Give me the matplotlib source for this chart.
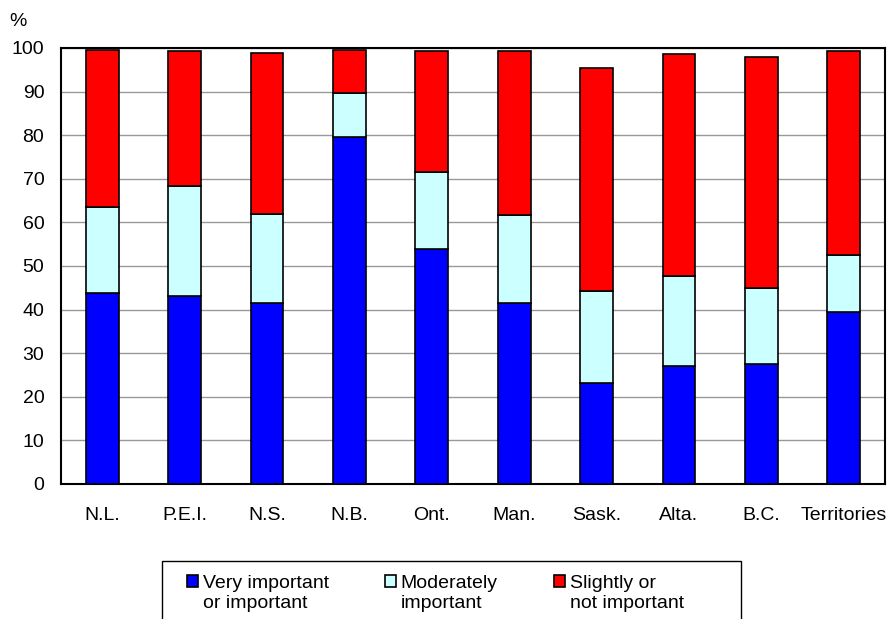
'''Stacked bar chart of importance ratings by province/territory.'''

import numpy as np
import matplotlib.pyplot as plt
from matplotlib.patches import Rectangle
from matplotlib.container import BarContainer
from matplotlib.legend_handler import HandlerPatch, update_from_first_child

plt.rcParams['font.family'] = ['Liberation Sans', 'DejaVu Sans']

# Data (%)
regions = ['N.L.', 'P.E.I.', 'N.S.', 'N.B.', 'Ont.', 'Man.', 'Sask.', 'Alta.', 'B.C.', 'Territories']
very_important = [43.7, 43.2, 41.5, 79.6, 53.9, 41.5, 23.2, 27.0, 27.5, 39.5]
moderately = [19.8, 25.2, 20.5, 10.0, 17.7, 20.3, 21.0, 20.6, 17.5, 13.0]
slightly = [36.0, 30.9, 36.8, 9.9, 27.6, 37.4, 51.3, 51.1, 53.0, 46.7]

series_labels = ['Very important\nor important', 'Moderately\nimportant', 'Slightly or\nnot important']
series_colors = ['#0000FF', '#CCFFFF', '#FF0000']
y_ticks = list(range(0, 101, 10))


def top_aligned_patch(legend, orig_handle, xdescent, ydescent, width, height, fontsize):
    '''Legend square placed next to the first line of a two-line label.'''

    return Rectangle((-xdescent, -ydescent + 0.6 * fontsize), width, height)


def plot_chart():
    '''Draws the chart and saves it as out.png.'''

    fig = plt.figure(figsize=(8.94, 6.19), dpi=100)
    ax = fig.add_axes([61 / 894, 1 - 484 / 619, 824 / 894, 436 / 619])

    x = np.arange(len(regions)) + 0.5
    bottom = np.zeros(len(regions))
    handles = []
    for values, color in zip([very_important, moderately, slightly], series_colors):
        bars = ax.bar(x, values, 0.40, bottom=bottom, color=color,
                      edgecolor='black', linewidth=1.2, zorder=3)
        handles.append(bars)
        bottom += np.array(values)

    ax.set_xlim(0, len(regions))
    ax.set_ylim(0, 100)
    ax.set_yticks(y_ticks)
    ax.set_xticks(x)
    ax.set_xticklabels(regions)
    ax.tick_params(axis='both', length=0, labelsize=14)
    ax.tick_params(axis='y', pad=12)
    ax.tick_params(axis='x', pad=16.5)
    ax.yaxis.grid(True, color='#999999', linewidth=1, zorder=0)

    for spine in ax.spines.values():
        spine.set_color('black')
        spine.set_linewidth(1.5)

    ax.text(-0.052, 1.06, '%', transform=ax.transAxes, fontsize=14,
            ha='center', va='center')

    # Legend without frame, frame drawn separately
    handler = HandlerPatch(patch_func=top_aligned_patch, update_func=update_from_first_child)
    fig.legend(handles, series_labels, ncol=3, loc='upper left',
               bbox_to_anchor=(187 / 894, 1 - 575 / 619), frameon=False,
               fontsize=14, borderpad=0, borderaxespad=0,
               handlelength=0.55, handleheight=0.55, handletextpad=0.25,
               columnspacing=2.9, labelspacing=0.3,
               handler_map={BarContainer: handler})
    fig.patches.append(Rectangle((162 / 894, -0.02), (741 - 162) / 894,
                                 (619 - 561) / 619 + 0.02,
                                 transform=fig.transFigure, fill=False,
                                 edgecolor='black', linewidth=1))

    fig.savefig('out.png', dpi=100)


if __name__ == '__main__':
    plot_chart()
